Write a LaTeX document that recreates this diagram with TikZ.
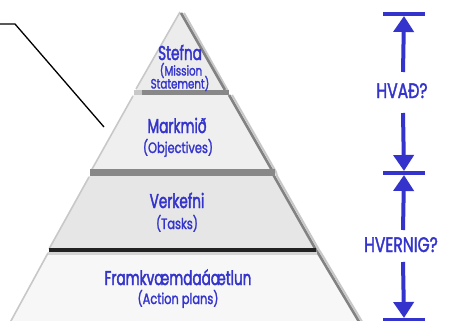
\documentclass[tikz,border=0pt]{standalone}
\usepackage{fontspec}
\setmainfont{Poppins}
\newfontfamily\mainfont[FakeStretch=0.68,FakeBold=2]{Poppins}
\newfontfamily\subfont[FakeStretch=0.76,FakeBold=1.6]{Poppins}
\newfontfamily\sidefont[FakeStretch=0.74,FakeBold=1.6]{Poppins}
\usetikzlibrary{arrows.meta}
\definecolor{inkblue}{RGB}{52,52,204}
\definecolor{tierA}{RGB}{236,236,236}
\definecolor{tierB}{RGB}{239,239,239}
\definecolor{tierC}{RGB}{230,230,230}
\definecolor{tierD}{RGB}{247,247,247}
\definecolor{edgelight}{RGB}{200,200,200}
\definecolor{edgedark}{RGB}{130,130,130}
\definecolor{band}{RGB}{136,136,136}
\definecolor{rule}{RGB}{34,34,34}
\definecolor{underrule}{RGB}{212,212,212}
\begin{document}
\begin{tikzpicture}[x=1pt,y=-1pt,
  mainlbl/.style={text=inkblue, font=\mainfont\fontsize{20}{20}\selectfont, inner sep=0pt, anchor=base},
  sublbl/.style={text=inkblue, font=\subfont\fontsize{15}{15}\selectfont, inner sep=0pt, anchor=base},
  toplbl/.style={text=inkblue, font=\subfont\fontsize{13.5}{13.5}\selectfont, inner sep=0pt, anchor=base, text height=8pt, text depth=0pt},
  sidelbl/.style={text=inkblue, font=\sidefont\fontsize{21}{21}\selectfont, inner sep=0pt, anchor=base},
  arr/.style={draw=inkblue, line width=4pt, -{Triangle[width=20pt,length=16pt]}},
  bar/.style={draw=inkblue, line width=4pt},
  leftedge/.style={draw=edgelight, line width=1.6pt},
  rightedge/.style={draw=edgedark, line width=2.6pt},
  rightglow/.style={draw=edgelight, line width=2pt},
  leader/.style={draw=black, line width=1.3pt}]
\useasboundingbox (0,0) rectangle (455,321);
\fill[white] (0,0) rectangle (455,321);
\begin{scope}
\clip (0,0) rectangle (455,321);
% tiers of the pyramid, bottom to top
\fill[tierD] (48,252) -- (317,252) -- (364,330) -- (6,330) -- cycle;
\fill[tierC] (89,176) -- (274,176) -- (316,250) -- (49,250) -- cycle;
\fill[tierB] (133,95) -- (229,95) -- (272,172) -- (91,172) -- cycle;
\fill[tierA] (180,12) -- (224,90) -- (136,90) -- cycle;
% left edges
\draw[leftedge] (48,253) -- (6,330);
\draw[leftedge] (89,177) -- (49,249);
\draw[leftedge] (133,96) -- (91,171);
\draw[leftedge] (180,12) -- (136,89);
% right edges with shading
\draw[rightglow] (184,13) -- (228,91);
\draw[rightglow] (232,95) -- (276,172) -- (277,176) -- (319,250) -- (321,253) -- (367,330);
\draw[rightedge] (181,13) -- (225,90);
\draw[rightedge] (229,95) -- (273,172) -- (274,176) -- (316,250) -- (318,253) -- (364,330);
% separating bands
\fill[band] (134,90) rectangle (229,95);
\fill[edgelight] (134,90) rectangle (142,95);
\fill[band] (90,169) rectangle (275,176);
\fill[rule] (49,248) rectangle (316,252);
\fill[underrule] (48,252) rectangle (317,255);
\end{scope}
% tier labels
\node[mainlbl] (stefna) at (180,60) {Stefna};
\node[toplbl]  (mission) at (181,75.5) {(Mission};
\node[toplbl]  (statement) at (180,88.5) {Statement)};
\node[mainlbl] (markmid) at (177,133) {Markmið};
\node[sublbl]  (objectives) at (178,153) {(Objectives)};
\node[mainlbl] (verkefni) at (177,208) {Verkefni};
\node[sublbl]  (tasks) at (177,229) {(Tasks)};
\node[mainlbl] (framkv) at (178,285) {Framkvæmdaáætlun};
\node[sublbl]  (actionplans) at (178,304) {(Action plans)};
% leader line on the left
\coordinate (leadA) at (0,24);
\coordinate (leadB) at (15,24);
\coordinate (leadC) at (104,127);
\draw[leader] (leadA) -- (leadB) -- (leadC);
% scale on the right
\node[sidelbl] (hvad) at (402,98) {HVAÐ?};
\node[sidelbl] (hvernig) at (401,252) {HVERNIG?};
\coordinate (barTop) at (404,14);
\coordinate (barMid) at (404,173);
\coordinate (barBot) at (404,320);
\draw[bar] ([xshift=-21pt]barTop) -- ([xshift=21pt]barTop);
\draw[bar] ([xshift=-21pt]barMid) -- ([xshift=21pt]barMid);
\draw[bar] ([xshift=-21pt]barBot) -- ([xshift=21pt]barBot);
\coordinate (upA) at (403,72);
\coordinate (downA) at (403,113);
\coordinate (upB) at (403,230);
\coordinate (downB) at (403,262);
\draw[arr] (upA) -- (barTop |- 0,16);
\draw[arr] (downA) -- (barMid |- 0,171);
\draw[arr] (upB) -- (barMid |- 0,175);
\draw[arr] (downB) -- (barBot |- 0,318);
\end{tikzpicture}
\end{document}
